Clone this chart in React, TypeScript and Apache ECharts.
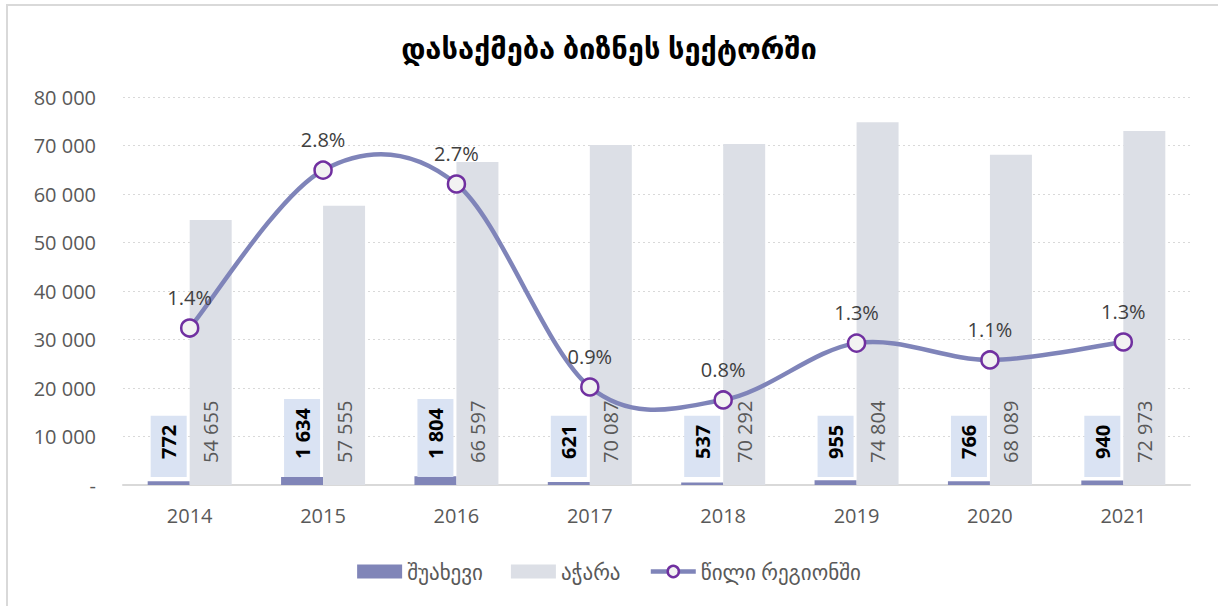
import React, { useEffect, useRef } from "react";
import * as echarts from "echarts";

const categories = ["2014", "2015", "2016", "2017", "2018", "2019", "2020", "2021"];
const shuakhevi = [772, 1634, 1804, 621, 537, 955, 766, 940];
const adjara = [54655, 57555, 66597, 70087, 70292, 74804, 68089, 72973];
const sharePct = [1.416, 2.84, 2.715, 0.884, 0.767, 1.28, 1.128, 1.29];

const title = "დასაქმება ბიზნეს სექტორში";
const seriesNames = ["შუახევი", "აჭარა", "წილი რეგიონში"];

const FONT = "'Open Sans', 'DejaVu Sans', sans-serif";
const LINE_COLOR = "#7f84b9";

function fmtThousands(v: number): string {
  if (v === 0) return "-";
  return String(Math.round(v)).replace(/\B(?=(\d{3})+(?!\d))/g, " ");
}

export default function App() {
  const ref = useRef<HTMLDivElement>(null);

  useEffect(() => {
    if (!ref.current) return;
    const chart = echarts.init(ref.current, undefined, { renderer: "svg" });
    const n = sharePct.length;
    chart.setOption({
      animation: false,
      backgroundColor: "transparent",
      textStyle: { fontFamily: FONT },
      title: {
        text: title,
        left: "center",
        top: 28,
        textStyle: { fontSize: 29, fontWeight: "bold", color: "#000000", fontFamily: FONT },
      },
      grid: { left: 123, right: 28, top: 97, bottom: 121, containLabel: false },
      legend: {
        bottom: 19,
        left: "center",
        itemWidth: 45,
        itemHeight: 14,
        itemGap: 28,
        textStyle: { fontSize: 21, color: "#595959", fontFamily: FONT },
        data: [
          { name: seriesNames[0], icon: "rect" },
          { name: seriesNames[1], icon: "rect" },
          {
            name: seriesNames[2],
            itemStyle: { color: "#f2f2f2", borderColor: "#7030a0", borderWidth: 2.5 },
            lineStyle: { color: LINE_COLOR, width: 4.5, opacity: 1 },
          },
        ],
      },
      xAxis: {
        type: "category",
        data: categories,
        axisTick: { show: false },
        axisLine: { lineStyle: { color: "#d9d9d9", width: 2 } },
        axisLabel: { fontSize: 20, color: "#595959", margin: 20, fontFamily: FONT },
      },
      yAxis: [
        {
          type: "value",
          min: 0,
          max: 80000,
          interval: 10000,
          axisLine: { show: false },
          axisTick: { show: false },
          axisLabel: {
            fontSize: 20,
            color: "#595959",
            margin: 27,
            fontFamily: FONT,
            formatter: (v: number) => fmtThousands(v),
          },
          splitLine: { lineStyle: { color: "#d9d9d9", type: [2, 3], width: 1 } },
        },
        {
          type: "value",
          min: 0,
          max: 3.5,
          show: false,
          splitLine: { show: false },
        },
      ],
      series: [
        {
          name: seriesNames[0],
          type: "bar",
          data: shuakhevi,
          barWidth: 42,
          barGap: "0%",
          itemStyle: { color: "#8085b8" },
          label: {
            show: true,
            position: "insideBottom",
            distance: 8,
            rotate: 90,
            align: "left",
            verticalAlign: "middle",
            fontSize: 20,
            fontWeight: "bold",
            color: "#000000",
            fontFamily: FONT,
            backgroundColor: "#dae3f3",
            padding: [8, 9, 8, 18],
            formatter: (p: any) => fmtThousands(p.value),
          },
        },
        {
          name: seriesNames[1],
          type: "bar",
          data: adjara,
          barWidth: 42,
          barGap: "0%",
          itemStyle: { color: "#dcdfe6" },
          label: {
            show: true,
            position: "insideBottom",
            distance: 22,
            rotate: 90,
            align: "left",
            verticalAlign: "middle",
            fontSize: 20,
            color: "#595959",
            fontFamily: FONT,
            formatter: (p: any) => fmtThousands(p.value),
          },
        },
        {
          type: "custom",
          yAxisIndex: 1,
          data: sharePct.map((v, i) => [i, v]),
          encode: { x: 0, y: 1 },
          silent: true,
          z: 4,
          renderItem: (params: any, api: any) => {
            const i = params.dataIndex;
            if (i >= n - 1) return null;
            const pt = (k: number) => {
              const kk = Math.max(0, Math.min(n - 1, k));
              return api.coord([kk, sharePct[kk]]);
            };
            const p0 = pt(i - 1);
            const p1 = pt(i);
            const p2 = pt(i + 1);
            const p3 = pt(i + 2);
            return {
              type: "bezierCurve",
              shape: {
                x1: p1[0],
                y1: p1[1],
                x2: p2[0],
                y2: p2[1],
                cpx1: p1[0] + (p2[0] - p0[0]) / 6,
                cpy1: p1[1] + (p2[1] - p0[1]) / 6,
                cpx2: p2[0] - (p3[0] - p1[0]) / 6,
                cpy2: p2[1] - (p3[1] - p1[1]) / 6,
              },
              style: { stroke: LINE_COLOR, lineWidth: 4.5, fill: "none", lineCap: "round" },
            };
          },
        },
        {
          name: seriesNames[2],
          type: "line",
          yAxisIndex: 1,
          data: sharePct,
          symbol: "circle",
          symbolSize: 17,
          lineStyle: { color: LINE_COLOR, width: 4.5, opacity: 0 },
          itemStyle: { color: "#f2f2f2", borderColor: "#7030a0", borderWidth: 2.5 },
          label: {
            show: true,
            position: "top",
            distance: 11,
            fontSize: 20,
            color: "#404040",
            fontFamily: FONT,
            formatter: (p: any) => p.value.toFixed(1) + "%",
          },
          z: 5,
        },
      ],
    });
    return () => chart.dispose();
  }, []);

  return (
    <div style={{ position: "fixed", left: 0, top: 0, width: 1218, height: 606, background: "#fff" }}>
      <div
        style={{
          position: "absolute",
          left: 6,
          top: 4,
          right: 0,
          bottom: 0,
          borderTop: "2px solid #d9d9d9",
          borderLeft: "2px solid #d9d9d9",
        }}
      />
      <div ref={ref} style={{ position: "absolute", left: 0, top: 0, width: 1218, height: 606 }} />
    </div>
  );
}
